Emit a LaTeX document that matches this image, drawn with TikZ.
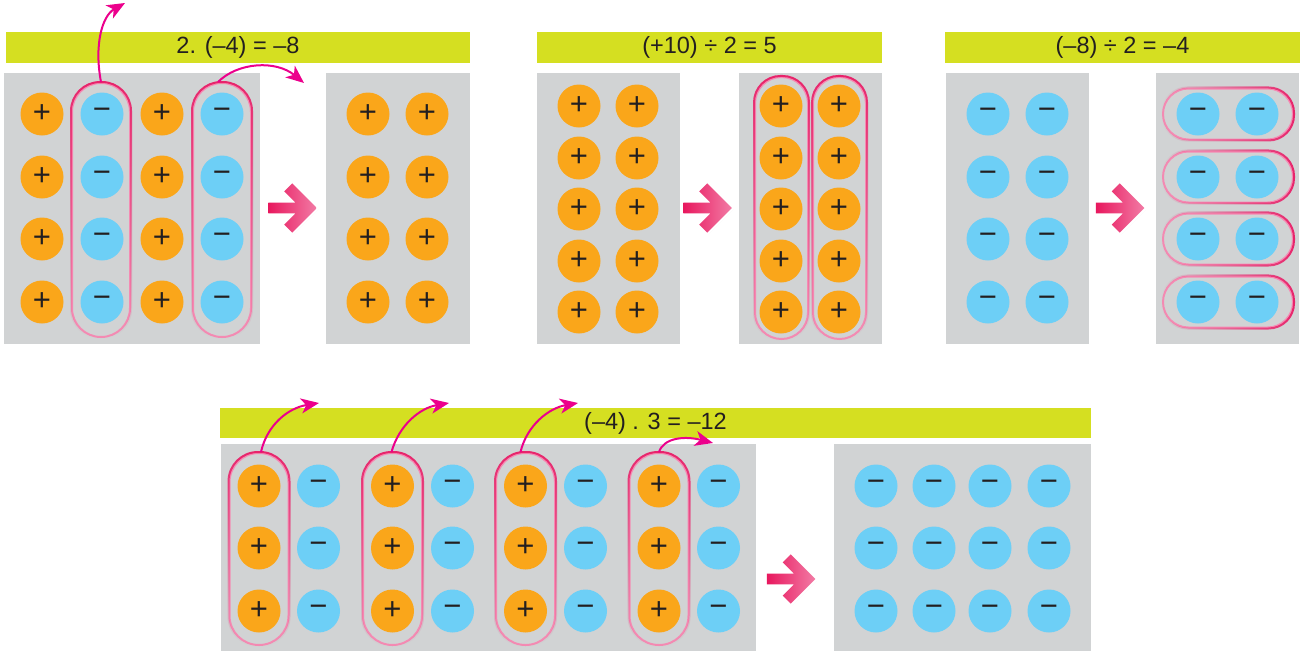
\documentclass[tikz,border=0pt]{standalone}
\usepackage{fontspec}
\setmainfont{Liberation Sans}
\usetikzlibrary{arrows.meta,fadings}
\definecolor{orng}{HTML}{FAA61A}
\definecolor{blu}{HTML}{6DCFF6}
\definecolor{panelgray}{HTML}{D1D3D4}
\definecolor{barcol}{HTML}{D5DF21}
\definecolor{txt}{HTML}{231F20}
\definecolor{mag}{HTML}{EC008C}
\definecolor{capdeep}{HTML}{E8246B}
\definecolor{caplight}{HTML}{F48BB3}
\definecolor{arrdeep}{HTML}{E8185E}
\definecolor{arrlight}{HTML}{F27BA5}
\tikzset{
  panelbox/.style={rectangle, fill=panelgray, draw=none, inner sep=0pt},
  titlebar/.style={rectangle, fill=barcol, draw=none, inner sep=0pt, text=txt,
    font=\fontsize{23.5}{28}\selectfont},
  plusdot/.style={circle, fill=orng, minimum size=43pt, inner sep=0pt, text=txt,
    font=\fontsize{31}{34}\selectfont},
  minusdot/.style={circle, fill=blu, minimum size=43pt, inner sep=0pt, text=txt,
    font=\fontsize{31}{34}\selectfont},
  capsule/.style={rectangle, draw=caplight, line width=2pt, inner sep=0pt},
  curv/.style={mag, line width=2pt, -{Stealth[length=18pt,width=15pt,inset=5pt]}},
}
\newcommand\pinkarr[1]{%
  \begin{scope}[shift={#1}, scale=0.88]
    \fill[black, opacity=.2, shift={(1.8,1.8)}] (-45,-6) -- (-14,-6) -- (-27,-19) -- (-18,-28) -- (10,0) -- (-18,28) -- (-27,19) -- (-14,6) -- (-45,6) -- cycle;
    \draw[white, line width=5pt, line join=miter] (-45,-6) -- (-14,-6) -- (-27,-19) -- (-18,-28) -- (10,0) -- (-18,28) -- (-27,19) -- (-14,6) -- (-45,6) -- cycle;
    \shade[left color=arrdeep, right color=arrlight] (-45,-6) -- (-14,-6) -- (-27,-19) -- (-18,-28) -- (10,0) -- (-18,28) -- (-27,19) -- (-14,6) -- (-45,6) -- cycle;
  \end{scope}}
% capsule: name, center x, center y, width, height
\newcommand\vcap[5]{%
  \node[capsule, rounded corners=#4*0.5pt-0.05pt, minimum width=#4pt, minimum height=#5pt] (#1) at (#2,#3) {};
  \draw[capdeep, line width=2pt, rounded corners=#4*0.5pt-0.05pt, path fading=south]
    (#1.south west) rectangle (#1.north east);}
\newcommand\hcap[5]{%
  \node[capsule, rounded corners=#5*0.5pt-0.05pt, minimum width=#4pt, minimum height=#5pt] (#1) at (#2,#3) {};
  \draw[capdeep, line width=2pt, rounded corners=#5*0.5pt-0.05pt, path fading=west]
    (#1.south west) rectangle (#1.north east);}
\begin{document}
\begin{tikzpicture}[x=1pt, y=-1pt]
\useasboundingbox (0,0) rectangle (1309,654);
\fill[white] (0,0) rectangle (1309,654);

% ---------- titles ----------
\node[titlebar, minimum width=464pt, minimum height=31pt] (t1) at (238,47.5) {2. (–4) = –8};
\node[titlebar, minimum width=345pt, minimum height=31pt] (t2) at (709.5,47.5) {(+10) ÷ 2 = 5};
\node[titlebar, minimum width=355pt, minimum height=31pt] (t3) at (1122.5,47.5) {(–8) ÷ 2 = –4};
\node[titlebar, minimum width=871pt, minimum height=30pt] (t4) at (655.5,423) {(–4) . 3 = –12};

% ---------- panels ----------
\node[panelbox, minimum width=256pt, minimum height=271pt] (pA) at (132,208.5) {};
\node[panelbox, minimum width=144pt, minimum height=271pt] (pB) at (398,208.5) {};
\node[panelbox, minimum width=143pt, minimum height=271pt] (pC) at (608.5,208.5) {};
\node[panelbox, minimum width=143pt, minimum height=271pt] (pD) at (810.5,208.5) {};
\node[panelbox, minimum width=143pt, minimum height=271pt] (pE) at (1017.5,208.5) {};
\node[panelbox, minimum width=143pt, minimum height=271pt] (pF) at (1227.5,208.5) {};
\node[panelbox, minimum width=535pt, minimum height=207pt] (pG) at (488.5,547.5) {};
\node[panelbox, minimum width=257pt, minimum height=207pt] (pH) at (962.5,547.5) {};

% ---------- panels A, B, E, F ----------
\foreach \r/\y in {1/114,2/177,3/239,4/302}{
  \node[plusdot] (a1\r) at (42,\y) {+};
  \node[minusdot] (a2\r) at (102,\y) {−};
  \node[plusdot] (a3\r) at (162,\y) {+};
  \node[minusdot] (a4\r) at (222,\y) {−};
  \node[plusdot] (b1\r) at (368,\y) {+};
  \node[plusdot] (b2\r) at (427,\y) {+};
  \node[minusdot] (e1\r) at (988,\y) {−};
  \node[minusdot] (e2\r) at (1047,\y) {−};
  \node[minusdot] (f1\r) at (1198,\y) {−};
  \node[minusdot] (f2\r) at (1257,\y) {−};
}
\vcap{capA}{101}{210}{58}{254}
\vcap{capB}{222}{210}{58}{254}

% ---------- panels C, D ----------
\foreach \r/\y in {1/106,2/158,3/209,4/261,5/312}{
  \node[plusdot] (c1\r) at (579,\y) {+};
  \node[plusdot] (c2\r) at (637,\y) {+};
  \node[plusdot] (d1\r) at (781,\y) {+};
  \node[plusdot] (d2\r) at (839,\y) {+};
}
\vcap{capC}{781.5}{208}{53}{262}
\vcap{capD}{839.5}{208}{53}{262}

% ---------- panel F capsules ----------
\hcap{capF1}{1228}{114}{130}{51}
\hcap{capF2}{1228}{177}{130}{51}
\hcap{capF3}{1228}{239}{130}{51}
\hcap{capF4}{1228}{302}{130}{51}

% ---------- panels G, H ----------
\foreach \r/\y in {1/486,2/548,3/611}{
  \node[plusdot] (g1\r) at (259,\y) {+};
  \node[minusdot] (g2\r) at (318.5,\y) {−};
  \node[plusdot] (g3\r) at (392.5,\y) {+};
  \node[minusdot] (g4\r) at (452.5,\y) {−};
  \node[plusdot] (g5\r) at (525.5,\y) {+};
  \node[minusdot] (g6\r) at (585.5,\y) {−};
  \node[plusdot] (g7\r) at (659,\y) {+};
  \node[minusdot] (g8\r) at (718.5,\y) {−};
  \node[minusdot] (h1\r) at (876,\y) {−};
  \node[minusdot] (h2\r) at (934,\y) {−};
  \node[minusdot] (h3\r) at (990,\y) {−};
  \node[minusdot] (h4\r) at (1049,\y) {−};
}
\vcap{capG1}{259}{549}{59}{192}
\vcap{capG2}{392.5}{549}{59}{192}
\vcap{capG3}{525.5}{549}{59}{192}
\vcap{capG4}{659}{549}{59}{192}

% ---------- block arrows ----------
\pinkarr{(308,208)}
\pinkarr{(723,208)}
\pinkarr{(1135.5,208)}
\pinkarr{(806.5,579)}

% ---------- curved arrows ----------
\coordinate (tipA) at (125,3);
\coordinate (tipB) at (304,83);
\coordinate (tipG1) at (319,403);
\coordinate (tipG2) at (449,403);
\coordinate (tipG3) at (578,403);
\coordinate (tipG4) at (713,443);
\draw[curv] (capA.north) .. controls (94,45) and (102,16) .. (tipA);
\draw[curv] ([xshift=-4pt]capB.north) .. controls (238,62) and (276,60) .. (tipB);
\draw[curv] ([xshift=2pt]capG1.north) .. controls (267,425) and (288,408) .. (tipG1);
\draw[curv] ([xshift=-1pt]capG2.north) .. controls (399,425) and (420,408) .. (tipG2);
\draw[curv] ([xshift=-5pt]capG3.north) .. controls (527,425) and (549,408) .. (tipG3);
\draw[curv] (capG4.north) .. controls (664,437) and (686,436) .. (tipG4);
\end{tikzpicture}
\end{document}
